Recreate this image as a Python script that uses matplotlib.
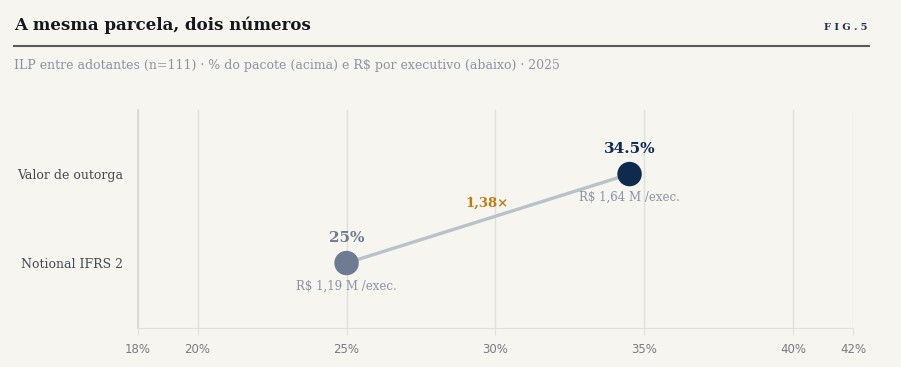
import matplotlib

matplotlib.use("Agg")
import matplotlib.pyplot as plt

# dados
categories = ["Notional IFRS 2", "Valor de outorga"]
shares = [25.0, 34.5]
share_labels = ["25%", "34.5%"]
per_exec = ["R$ 1,19 M /exec.", "R$ 1,64 M /exec."]
ratio_label = "1,38×"
x_ticks = [18, 20, 25, 30, 35, 40, 42]

BG = "#f6f5f0"
NAVY = "#0e2a4d"
SLATE = "#6e7b93"
MUTED = "#8a93a6"
LINE = "#b9c1c9"
ORANGE = "#c27b12"
GRID = "#e2e0d9"
SERIF = ["DejaVu Serif"]

fig = plt.figure(figsize=(9.01, 3.67), dpi=100, facecolor=BG)
ax = fig.add_axes([138 / 901, 1 - 328 / 367, (853 - 138) / 901, (328 - 110) / 367])
ax.set_facecolor(BG)

ys = list(range(len(categories)))
ax.plot(shares, ys, color=LINE, lw=2.4, zorder=2, solid_capstyle="butt")
ax.scatter(shares, ys, s=310, color=[SLATE, NAVY], zorder=3, linewidths=0)

for x, y, lab, sub, c in zip(shares, ys, share_labels, per_exec, [SLATE, NAVY]):
    ax.annotate(lab, (x, y), xytext=(0, 13), textcoords="offset points", ha="center", va="bottom",
                fontsize=11, fontweight="bold", color=c, family=SERIF)
    ax.annotate(sub, (x, y), xytext=(0, -12), textcoords="offset points", ha="center", va="top",
                fontsize=8.5, color=MUTED, family=SERIF)

mid_x = (shares[0] + shares[1]) / 2
mid_y = (ys[0] + ys[1]) / 2
ax.annotate(ratio_label, (mid_x, mid_y), xytext=(-1, 6), textcoords="offset points", ha="center",
            va="bottom", fontsize=9.5, fontweight="bold", color=ORANGE, family=SERIF)

ax.set_xlim(18, 42)
ax.set_ylim(-0.73, 1.72)
ax.set_xticks(x_ticks)
ax.set_xticklabels([f"{t}%" for t in x_ticks], fontsize=8.5, color="#777b84")
ax.set_yticks(ys)
ax.set_yticklabels(categories, fontsize=9, color="#454a55", family=SERIF)
ax.tick_params(axis="y", length=0, pad=11)
ax.tick_params(axis="x", length=5, color=GRID, pad=6)
for t in x_ticks:
    ax.axvline(t, color=GRID, lw=1, zorder=0)
for spine in ("top", "right"):
    ax.spines[spine].set_visible(False)
ax.spines["left"].set_color("#dcdad2")
ax.spines["left"].set_linewidth(1.4)
ax.spines["bottom"].set_color(GRID)

# cabeçalho
fig.text(14 / 901, 1 - 25 / 367, "A mesma parcela, dois números", fontsize=12, fontweight="bold",
         color="#15171c", family=SERIF, va="center", ha="left")
fig.text(867 / 901, 1 - 27 / 367, "F I G . 5", fontsize=7, fontweight="bold", color="#1d3350",
         family=SERIF, va="center", ha="right")
fig.add_artist(plt.Line2D([14 / 901, 869 / 901], [1 - 46 / 367, 1 - 46 / 367], color="#5a5a5a", lw=1.5))
fig.text(14 / 901, 1 - 66 / 367, "ILP entre adotantes (n=111) · % do pacote (acima) e R$ por executivo (abaixo) · 2025",
         fontsize=9, color=MUTED, family=SERIF, va="center", ha="left")

fig.savefig("out.png", facecolor=BG)
